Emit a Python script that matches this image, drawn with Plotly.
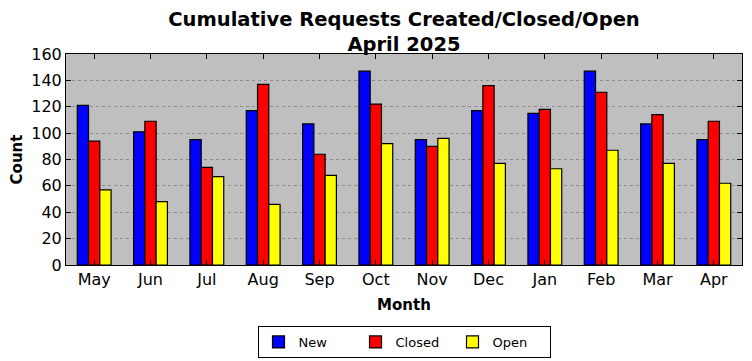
import plotly.graph_objects as go

months = ["May", "Jun", "Jul", "Aug", "Sep", "Oct", "Nov", "Dec", "Jan", "Feb", "Mar", "Apr"]
new_vals = [121, 101, 95, 117, 107, 147, 95, 117, 115, 147, 107, 95]
closed_vals = [94, 109, 74, 137, 84, 122, 90, 136, 118, 131, 114, 109]
open_vals = [57, 48, 67, 46, 68, 92, 96, 77, 73, 87, 77, 62]
y_ticks = [0, 20, 40, 60, 80, 100, 120, 140, 160]

FONT = "DejaVu Sans"
fig = go.Figure()
for name, vals, col in [("New", new_vals, "#0000ff"), ("Closed", closed_vals, "#ff0000"), ("Open", open_vals, "#ffff00")]:
    fig.add_trace(go.Bar(x=months, y=vals, name=name, marker=dict(color=col, line=dict(color="black", width=1.2))))

# page body has an 8px margin, so the figure is sized to fit the remaining window
fig.update_layout(
    width=744, height=353,
    margin=dict(l=58, r=10, t=46, b=96, autoexpand=False),
    paper_bgcolor="white", plot_bgcolor="#bfbfbf",
    barmode="group", bargap=0.4, bargroupgap=0,
    font=dict(family=FONT, color="black", size=12),
    title=dict(text="<b>Cumulative Requests Created/Closed/Open<br>April 2025</b>",
               x=0.5, xref="paper", xanchor="center", y=0.95, yanchor="top",
               font=dict(size=19.5, family=FONT)),
    legend=dict(orientation="h", x=0.5, xanchor="center", y=-0.289, yanchor="top",
                bordercolor="black", borderwidth=1, bgcolor="white", font=dict(size=13),
                traceorder="normal", entrywidth=52, itemwidth=30),
    xaxis=dict(range=[-0.5, 11.5], showline=True, linecolor="black", linewidth=1, mirror="ticks",
               ticks="inside", ticklen=5, tickcolor="black", automargin=False,
               tickfont=dict(size=16),
               title=dict(text="<b>Month</b>", font=dict(size=15), standoff=11)),
    yaxis=dict(range=[0, 160], tickvals=y_ticks, showline=True, linecolor="black", linewidth=1, mirror="ticks",
               ticks="inside", ticklen=5, tickcolor="black", automargin=False,
               showgrid=True, gridcolor="#8c8c8c", griddash="dot", gridwidth=1,
               zeroline=False, tickfont=dict(size=16),
               title=dict(text="<b>Count</b>", font=dict(size=15), standoff=8)),
)
fig.write_html("out.html")
